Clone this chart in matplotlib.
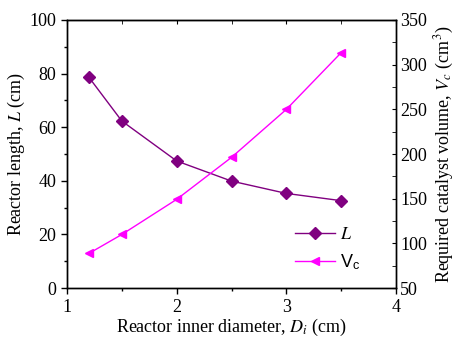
import matplotlib
matplotlib.use('Agg')
import matplotlib.pyplot as plt
from matplotlib.ticker import MultipleLocator

plt.rcParams['font.family'] = 'Liberation Serif'
plt.rcParams['mathtext.fontset'] = 'stix'

diameter = [1.2, 1.5, 2.0, 2.5, 3.0, 3.5]
length = [78.6, 62.3, 47.4, 39.9, 35.3, 32.6]
volume = [88.8, 110.0, 149.3, 196.3, 250.0, 313.5]

fig = plt.figure(figsize=(4.65, 3.37), dpi=100)
ax = fig.add_axes([0.144, 0.145, 0.708, 0.796])
ax2 = ax.twinx()

l1, = ax.plot(diameter, length, color='#800080', marker='D', ms=6, lw=1)
l2, = ax2.plot(diameter, volume, color='#ff00ff', marker='<', ms=6, lw=1)

ax.set_xlim(1, 4)
ax.set_ylim(0, 100)
ax2.set_ylim(50, 350)
ax.xaxis.set_major_locator(MultipleLocator(1))
ax.xaxis.set_minor_locator(MultipleLocator(0.5))
ax.yaxis.set_major_locator(MultipleLocator(20))
ax.yaxis.set_minor_locator(MultipleLocator(10))
ax2.yaxis.set_major_locator(MultipleLocator(50))
ax2.yaxis.set_minor_locator(MultipleLocator(25))

ax.tick_params(which='both', direction='out', labelsize=13, width=1)
ax.tick_params(which='major', length=4)
ax.tick_params(which='minor', length=2.5)
ax2.tick_params(which='both', direction='in', labelsize=13, length=3, pad=3)

top = ax.secondary_xaxis('top')
top.xaxis.set_major_locator(MultipleLocator(1))
top.xaxis.set_minor_locator(MultipleLocator(0.5))
top.tick_params(which='both', direction='in', length=3, labeltop=False)

for a in (ax, ax2):
    for s in a.spines.values():
        s.set_linewidth(1)

ax.set_xlabel(r'Reactor inner diameter, $D_i$ (cm)', fontsize=13, labelpad=1)
ax.set_ylabel(r'Reactor length, $L$ (cm)', fontsize=13, labelpad=2)
ax2.set_ylabel(r'Required catalyst volume, $V_c$ (cm$^3$)', fontsize=13, labelpad=4)

leg = ax.legend([l1, l2], [r'$L$', r'V$_\mathregular{c}$'], loc='lower right',
                bbox_to_anchor=(0.94, 0.0), frameon=False, fontsize=13,
                handlelength=2.2, handletextpad=0.3, labelspacing=0.5)
leg.get_texts()[1].set_family('Liberation Sans')

fig.savefig('out.png', dpi=100)
